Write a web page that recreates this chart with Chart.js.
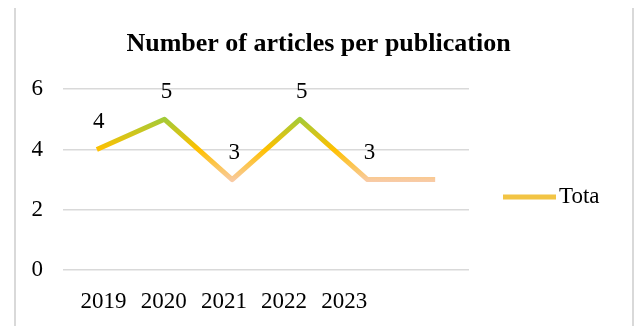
<!DOCTYPE html>
<html>
<head>
<meta charset="utf-8">
<script src="https://cdn.jsdelivr.net/npm/chart.js@4.4.1/dist/chart.umd.min.js"></script>
<style>
  html, body { margin: 0; padding: 0; background: #fff; }
  #wrap { width: 637px; height: 326px; }
</style>
</head>
<body>
<div id="wrap"><canvas id="myLineChart" width="637" height="326"></canvas></div>
<script>
// chart data
const categories = ['2019', '2020', '2021', '2022', '2023', ''];
const values = [4, 5, 3, 5, 3, 3];
const yearLabels = ['2019', '2020', '2021', '2022', '2023'];
const seriesName = 'Tota';

const serif = "'Liberation Serif', 'Times New Roman', serif";

// vertical gradient for the line: green at the top, gold in the middle, peach at the bottom
function lineGradient(context) {
  const chart = context.chart;
  if (!chart.chartArea) return '#FFC000';
  const y = chart.scales.y;
  const g = chart.ctx.createLinearGradient(0, y.getPixelForValue(5) - 3, 0, y.getPixelForValue(3) + 3);
  g.addColorStop(0, '#9CCB3C');
  g.addColorStop(0.5, '#FFC000');
  g.addColorStop(1, '#F8CBAD');
  return g;
}

// draws the frame lines, the value labels and the legend
const extras = {
  id: 'extras',
  beforeDraw(chart) {
    const c = chart.ctx;
    c.save();
    c.strokeStyle = '#D9D9D9';
    c.lineWidth = 2;
    c.beginPath();
    c.moveTo(15, 8); c.lineTo(15, chart.height);
    c.moveTo(633, 8); c.lineTo(633, chart.height);
    c.stroke();
    c.restore();
  },
  afterDatasetsDraw(chart) {
    const c = chart.ctx;
    const meta = chart.getDatasetMeta(0);
    c.save();
    c.font = '23px ' + serif;
    c.fillStyle = '#000';
    c.textAlign = 'center';
    c.textBaseline = 'alphabetic';
    meta.data.forEach((pt, i) => {
      if (!categories[i]) return; // last point has no label
      c.fillText(String(values[i]), pt.x + 2, pt.y - 21);
    });

    // legend
    const lx = chart.chartArea.right + 34;
    const ly = 197;
    c.strokeStyle = '#F2C444';
    c.lineWidth = 5;
    c.beginPath();
    c.moveTo(lx, ly); c.lineTo(lx + 53, ly);
    c.stroke();
    c.textAlign = 'left';
    c.textBaseline = 'middle';
    c.fillText(seriesName, lx + 56, ly);
    c.restore();
  }
};

var ctx = document.getElementById('myLineChart').getContext('2d');
var myLineChart = new Chart(ctx, {
  type: 'line',
  data: {
    labels: categories,
    datasets: [{
      label: seriesName,
      data: values,
      borderColor: lineGradient,
      borderWidth: 5,
      borderJoinStyle: 'round',
      borderCapStyle: 'butt',
      tension: 0,
      pointRadius: 0,
      pointHoverRadius: 0,
      fill: false
    }]
  },
  options: {
    responsive: false,
    animation: false,
    layout: {
      padding: 0
    },
    plugins: {
      legend: { display: false },
      tooltip: { enabled: false },
      title: {
        display: true,
        text: 'Number of articles per publication',
        color: '#000',
        font: { family: serif, size: 26, weight: 'bold' },
        padding: { top: 29, bottom: 29 }
      }
    },
    scales: {
      x: {
        type: 'category',
        offset: true,
        display: false
      },
      x2: {
        type: 'linear',
        position: 'bottom',
        bounds: 'data',
        min: -0.673,
        max: 6.071,
        grid: { display: false },
        border: { display: false },
        afterBuildTicks: function(scale) {
          scale.ticks = yearLabels.map((_, i) => ({ value: i }));
        },
        afterFit: function(scale) {
          scale.height = 56;
        },
        ticks: {
          autoSkip: false,
          maxRotation: 0,
          padding: 10,
          color: '#000',
          font: { family: serif, size: 23 },
          callback: function(value) {
            return yearLabels[value];
          }
        }
      },
      y: {
        min: 0,
        max: 6,
        afterFit: function(scale) {
          scale.width = 63;
        },
        grid: {
          color: '#D9D9D9',
          lineWidth: 1.5,
          drawTicks: false
        },
        border: { display: false },
        ticks: {
          stepSize: 2,
          padding: 20,
          color: '#000',
          font: { family: serif, size: 23 }
        }
      },
      // empty right-hand axis that keeps room for the legend
      yRight: {
        type: 'linear',
        position: 'right',
        grid: { display: false },
        border: { display: false },
        ticks: { display: false },
        afterFit: function(scale) {
          scale.width = 168;
        }
      }
    }
  },
  plugins: [extras]
});
</script>
</body>
</html>
